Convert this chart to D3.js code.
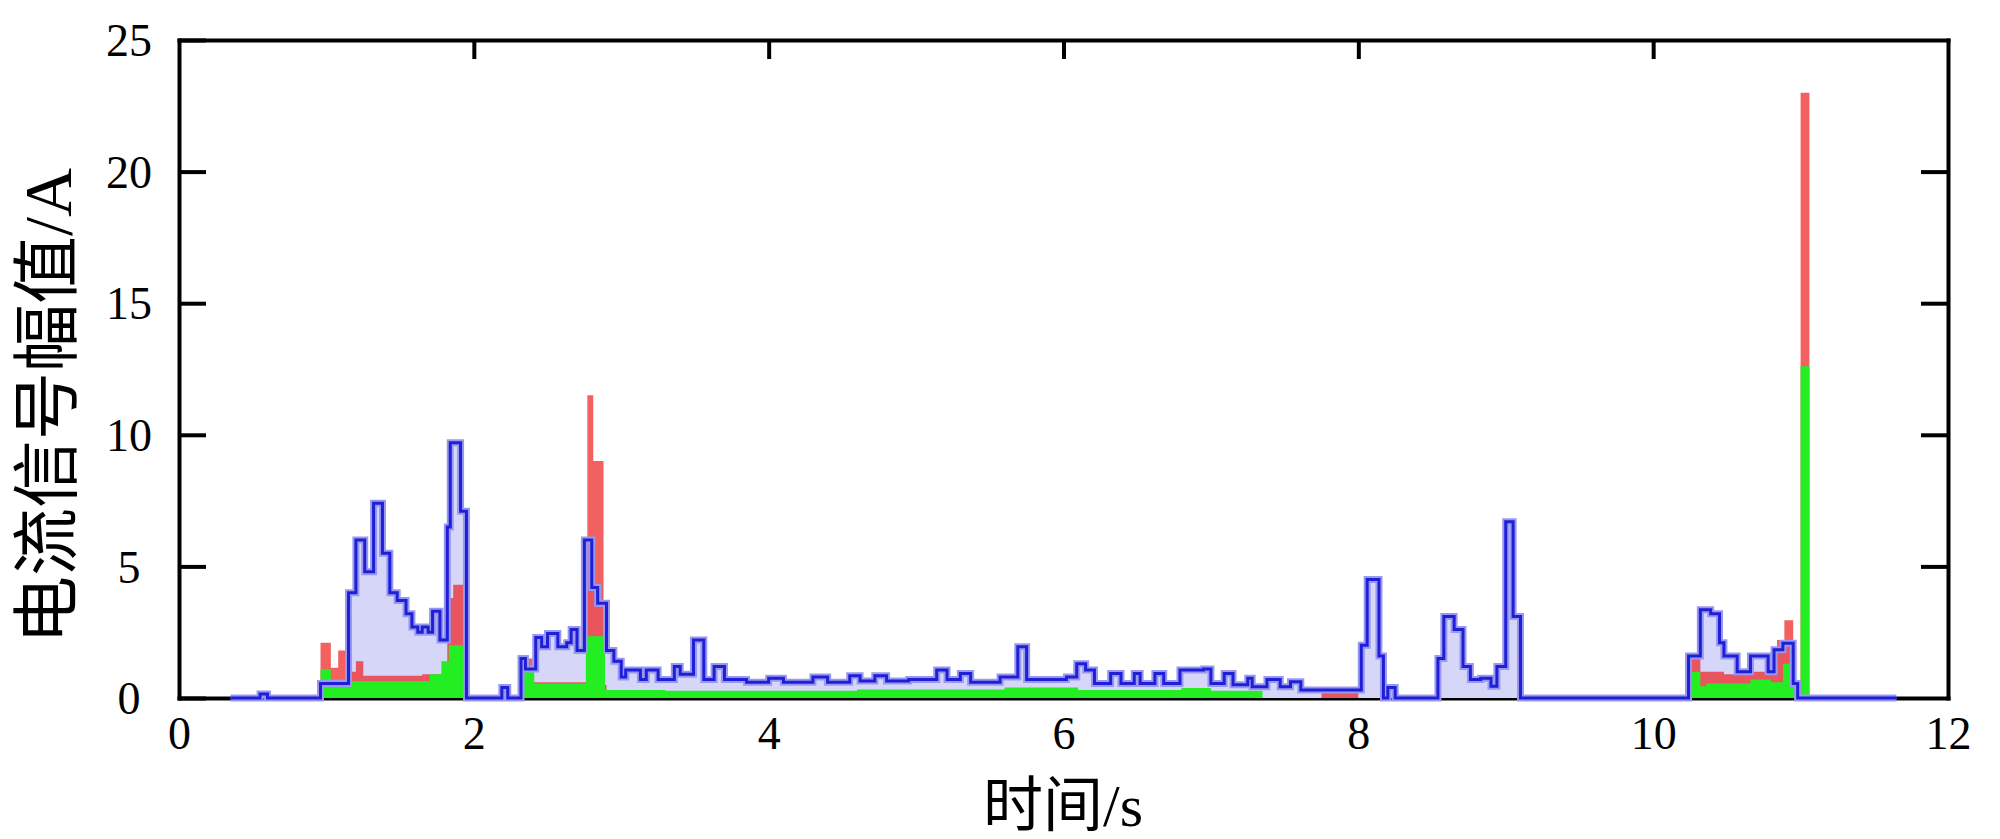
<!DOCTYPE html>
<html>
<head>
<meta charset="utf-8">
<script src="https://cdn.jsdelivr.net/npm/d3@7"></script>
<style>
  body { margin: 0; background: #fff; }
  svg text { font-family: "Liberation Serif", "Noto Sans CJK SC", serif; fill: #000; }
</style>
</head>
<body>
<svg id="chart" width="2000" height="839"></svg>
<script>
// tick values
var xTicks = [0, 2, 4, 6, 8, 10, 12];
var yTicks = [0, 5, 10, 15, 20, 25];

// blue trace (step points: time s, amplitude A)
var blueT = [0.35, 0.55, 0.6, 0.96, 1.15, 1.2, 1.26, 1.32, 1.38, 1.43, 1.48, 1.54, 1.58, 1.62, 1.65, 1.69, 1.72, 1.77, 1.82, 1.84, 1.91, 1.95,
  2.19, 2.23, 2.32, 2.35, 2.42, 2.46, 2.5, 2.57, 2.63, 2.66, 2.7, 2.75, 2.8, 2.84, 2.9, 2.95, 3.0, 3.03, 3.13, 3.17, 3.25, 3.36, 3.4, 3.49, 3.56, 3.63, 3.7,
  3.85, 4.0, 4.1, 4.3, 4.4, 4.55, 4.62, 4.72, 4.8, 4.95, 5.14, 5.21, 5.3, 5.37, 5.57, 5.69, 5.75, 6.02, 6.09, 6.15, 6.21, 6.32, 6.39, 6.48, 6.52, 6.62, 6.68,
  6.79, 6.95, 7.0, 7.09, 7.15, 7.25, 7.28, 7.38, 7.47, 7.54, 7.61, 8.02, 8.06, 8.14, 8.17, 8.2, 8.25, 8.54, 8.58, 8.65, 8.71, 8.76, 8.83, 8.9, 8.94, 9.0,
  9.05, 9.1, 10.24, 10.32, 10.39, 10.45, 10.48, 10.57, 10.66, 10.78, 10.82, 10.88, 10.95, 10.98, 11.65];
var blueV = [0, 0.15, 0, 0.55, 4.0, 6.0, 4.8, 7.4, 5.5, 4.0, 3.7, 3.2, 2.7, 2.5, 2.7, 2.5, 3.3, 2.2, 6.5, 9.7, 7.1, 0,
  0.4, 0, 1.5, 1.1, 2.3, 1.95, 2.45, 1.95, 2.1, 2.6, 1.8, 6.0, 4.2, 3.6, 1.8, 1.4, 0.8, 1.06, 0.7, 1.06, 0.7, 1.2, 0.9, 2.2, 0.7, 1.2, 0.7,
  0.6, 0.75, 0.6, 0.8, 0.6, 0.85, 0.65, 0.85, 0.65, 0.7, 1.06, 0.7, 0.93, 0.6, 0.8, 1.95, 0.7, 0.8, 1.3, 1.06, 0.55, 0.93, 0.55, 0.93, 0.55, 0.93, 0.55,
  1.06, 1.1, 0.55, 0.93, 0.5, 0.75, 0.43, 0.7, 0.43, 0.62, 0.3, 2.0, 4.5, 1.6, 0, 0.4, 0, 1.5, 3.1, 2.6, 1.2, 0.7, 0.75, 0.45, 1.2, 6.7,
  3.1, 0, 1.6, 3.35, 3.2, 2.1, 1.6, 1.0, 1.6, 1.0, 1.83, 2.08, 0.55, 0, 0];

// red trace (null = gap)
var redT = [0.95, 0.96, 1.03, 1.08, 1.13, 1.2, 1.25, 1.65, 1.82, 1.86, 1.93, 1.94,
  2.31, 2.32, 2.4, 2.77, 2.81, 2.88, 2.9, 2.91,
  7.6, 7.75, 8.0, 8.01,
  10.2, 10.23, 10.32, 10.48, 10.66, 10.8, 10.84, 10.89, 10.95, 11.0, 11.06, 11.07];
var redV = [0, 2.1, 1.15, 1.8, 1.0, 1.4, 0.85, 0.9, 3.8, 4.3, 0, null,
  0, 1.5, 0.6, 11.5, 9.0, 0.5, 0, null,
  0, 0.22, 0, null,
  0, 1.6, 1.0, 0.9, 1.0, 1.2, 2.2, 2.95, 0.5, 23.0, 0, null];

// green trace
var greenT = [0.35, 0.96, 1.03, 1.16, 1.7, 1.78, 1.83, 1.93, 2.32, 2.41, 2.76, 2.89, 3.3, 4.6, 5.6, 6.1, 6.8, 7.0, 7.35,
  10.22, 10.32, 10.36, 10.66, 10.8, 10.88, 10.96, 11.0, 11.06, 11.65];
var greenV = [0, 1.1, 0.7, 0.65, 0.9, 1.4, 2.0, 0, 1.0, 0.55, 2.35, 0.3, 0.28, 0.32, 0.4, 0.3, 0.38, 0.28, 0,
  1.0, 0.45, 0.55, 0.7, 0.6, 1.3, 0.3, 12.6, 0, 0];

var svg = d3.select("#chart");

var x = d3.scaleLinear().domain([0, 12]).range([179, 1948]);
var y = d3.scaleLinear().domain([0, 25]).range([698, 40]);

var frame = svg.append("g");

// axes with inward ticks
frame.append("g")
  .attr("transform", "translate(" + x(0) + ",0)")
  .call(d3.axisLeft(y).tickValues(yTicks).tickSize(-27).tickSizeOuter(0).tickFormat(""));
frame.append("g")
  .attr("transform", "translate(" + x(12) + ",0)")
  .call(d3.axisRight(y).tickValues(yTicks.slice(1, 5)).tickSize(-27).tickSizeOuter(0).tickFormat(""));
frame.append("g")
  .attr("transform", "translate(0," + y(25) + ")")
  .call(d3.axisTop(x).tickValues(xTicks.slice(1, 6)).tickSize(-19).tickSizeOuter(0).tickFormat(""));
frame.append("g")
  .attr("transform", "translate(0," + y(0) + ")")
  .call(d3.axisBottom(x).tickValues([]).tickSizeOuter(0));

frame.selectAll(".domain").attr("stroke", "#000").attr("stroke-width", 4).attr("stroke-linecap", "square");
frame.selectAll(".tick line").attr("stroke", "#000").attr("stroke-width", 4);

// tick labels
var yLab = svg.append("g")
  .attr("transform", "translate(" + x(0) + ",0)")
  .call(d3.axisLeft(y).tickValues(yTicks).tickSize(0).tickFormat(d3.format("d")));
yLab.select(".domain").remove();
yLab.selectAll("text")
  .attr("x", -50)
  .attr("dy", "0.34em")
  .attr("text-anchor", "middle")
  .style("font-size", "46px");

var xLab = svg.append("g")
  .attr("transform", "translate(0," + y(0) + ")")
  .call(d3.axisBottom(x).tickValues(xTicks).tickSize(0).tickFormat(d3.format("d")));
xLab.select(".domain").remove();
xLab.selectAll("text")
  .attr("y", 51)
  .attr("dy", null)
  .style("font-size", "46px");

// series
function pts(ts, vs) {
  return ts.map(function(t, i) { return { t: t, v: vs[i] }; });
}
var blue = pts(blueT, blueV);
var red = pts(redT, redV);
var green = pts(greenT, greenV);

function stepArea() {
  return d3.area()
    .defined(function(d) { return d.v !== null; })
    .curve(d3.curveStepAfter)
    .x(function(d) { return x(d.t); })
    .y0(y(0))
    .y1(function(d) { return y(d.v); });
}

var plot = svg.append("g");

// light blue body of the blue trace
plot.append("path")
  .datum(blue)
  .attr("fill", "#d6d6f9")
  .attr("d", stepArea());

plot.append("path")
  .datum(red)
  .attr("fill", "#ee2222")
  .attr("fill-opacity", 0.72)
  .attr("d", stepArea());

plot.append("path")
  .datum(green)
  .attr("fill", "#22ee22")
  .attr("d", stepArea());

var blueLine = d3.line()
  .curve(d3.curveStepAfter)
  .x(function(d) { return x(d.t); })
  .y(function(d) { return y(d.v); });

plot.append("path")
  .datum(blue)
  .attr("fill", "none")
  .attr("stroke", "#9898f0")
  .attr("stroke-width", 7)
  .attr("d", blueLine);

plot.append("path")
  .datum(blue)
  .attr("fill", "none")
  .attr("stroke", "#1f1fd8")
  .attr("stroke-width", 3)
  .attr("d", blueLine);

// axis titles
svg.append("text")
  .attr("x", 1063)
  .attr("y", 826)
  .attr("text-anchor", "middle")
  .style("font-size", "60px")
  .text("时间/s");

svg.append("text")
  .attr("transform", "translate(71,406) rotate(-90)")
  .attr("text-anchor", "middle")
  .style("font-size", "68px")
  .text("电流信号幅值/A");
</script>
</body>
</html>
